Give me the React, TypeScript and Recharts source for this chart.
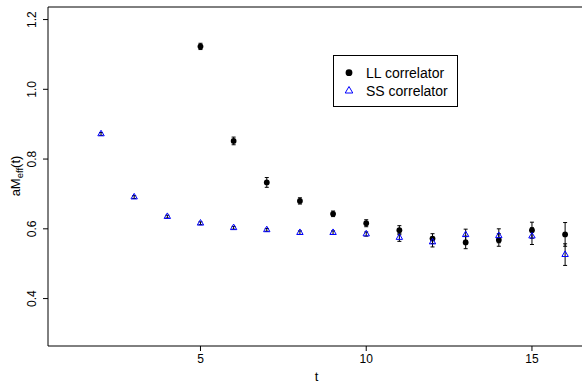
import React from 'react';
import { ScatterChart, Scatter, XAxis, YAxis, ErrorBar, ReferenceArea } from 'recharts';

// LL correlator (smeared-local) effective mass
const tLL = [5, 6, 7, 8, 9, 10, 11, 12, 13, 14, 15, 16];
const massLL = [1.123, 0.852, 0.733, 0.68, 0.643, 0.616, 0.596, 0.572, 0.561, 0.568, 0.596, 0.584];
const errLL = [0.009, 0.011, 0.014, 0.009, 0.008, 0.01, 0.013, 0.014, 0.018, 0.018, 0.023, 0.034];

// SS correlator
const tSS = [2, 3, 4, 5, 6, 7, 8, 9, 10, 11, 12, 13, 14, 15, 16];
const massSS = [0.872, 0.691, 0.635, 0.616, 0.603, 0.597, 0.589, 0.589, 0.585, 0.575, 0.562, 0.583, 0.58, 0.579, 0.526];
const errSS = [0.004, 0.004, 0.004, 0.004, 0.004, 0.004, 0.005, 0.005, 0.006, 0.011, 0.014, 0.016, 0.02, 0.024, 0.031];

const xTicks = [5, 10, 15];
const yTicks = [0.4, 0.6, 0.8, 1.0, 1.2];
const xDomain: [number, number] = [0.4, 16.6];
const yDomain: [number, number] = [0.264, 1.236];

const llData = tLL.map((t, i) => ({ t, v: massLL[i], e: errLL[i] }));
const ssData = tSS.map((t, i) => ({ t, v: massSS[i], e: errSS[i] }));

const YTick = ({ x, y, payload }: any) => (
  <text x={x} y={y} transform={`rotate(-90 ${x} ${y})`} textAnchor="middle" fontSize={12} fill="#000">
    {Number(payload.value).toFixed(1)}
  </text>
);

const Circle = ({ cx, cy }: any) => <circle cx={cx} cy={cy} r={2.9} fill="#000" />;

const Triangle = ({ cx, cy }: any) => {
  const r = 3.7;
  const pts = `${cx},${cy - r} ${cx - r * 0.866},${cy + r / 2} ${cx + r * 0.866},${cy + r / 2}`;
  return <polygon points={pts} fill="none" stroke="#0000ff" strokeWidth={1} />;
};

const LegendBox = () => (
  <div style={{ position: 'absolute', left: 333, top: 55, width: 125, height: 52, border: '1px solid #000', boxSizing: 'border-box', background: '#fff' }}>
    <svg width={125} height={52} style={{ position: 'absolute', left: -1, top: -1 }}>
      <circle cx={16} cy={17.7} r={3.4} fill="#000" />
      <polygon points="16,31.5 12.2,38 19.8,38" fill="none" stroke="#0000ff" strokeWidth={1} />
      <text x={33} y={22.5} fontSize={14} fill="#000">LL correlator</text>
      <text x={33} y={41} fontSize={14} fill="#000">SS correlator</text>
    </svg>
  </div>
);

const App: React.FC = () => {
  return (
    <div style={{ position: 'fixed', left: 0, top: 0, width: 582, height: 383, overflow: 'hidden', background: '#fff', fontFamily: '"Liberation Sans", Arial, sans-serif' }}>
      <ScatterChart width={585} height={383} margin={{ top: 7, right: 0, bottom: 0, left: 0 }}>
        <XAxis
          type="number"
          dataKey="t"
          domain={xDomain}
          ticks={xTicks}
          allowDataOverflow
          axisLine={false}
          tickLine={{ stroke: '#000' }}
          tickSize={5}
          tickMargin={3}
          tick={{ fill: '#000', fontSize: 12 }}
          height={37}
          label={({ viewBox }: any) => (
            <text x={viewBox.x + viewBox.width / 2} y={381} textAnchor="middle" fontSize={13} fill="#000">t</text>
          )}
        />
        <YAxis
          type="number"
          dataKey="v"
          domain={yDomain}
          ticks={yTicks}
          allowDataOverflow
          axisLine={false}
          tickLine={{ stroke: '#000' }}
          tickSize={5}
          tickMargin={7}
          tick={<YTick />}
          width={48}
          label={() => (
            <text x={20} y={176} transform={`rotate(-90 20 176)`} textAnchor="middle" fontSize={13} fill="#000">
              aM<tspan fontSize={9.5} dy={2.5}>eff</tspan><tspan dy={-2.5}>(t)</tspan>
            </text>
          )}
        />
        <ReferenceArea x1={xDomain[0]} x2={xDomain[1]} y1={yDomain[0]} y2={yDomain[1]} fill="none" stroke="#000" strokeWidth={1} ifOverflow="visible" />
        <Scatter name="LL correlator" data={llData} shape={<Circle />} isAnimationActive={false}>
          <ErrorBar dataKey="e" direction="y" width={2} stroke="#000" strokeWidth={1} isAnimationActive={false} />
        </Scatter>
        <Scatter name="SS correlator" data={ssData} shape={<Triangle />} isAnimationActive={false}>
          <ErrorBar dataKey="e" direction="y" width={2} stroke="#000" strokeWidth={1} isAnimationActive={false} />
        </Scatter>
      </ScatterChart>
      <LegendBox />
    </div>
  );
};

export default App;
